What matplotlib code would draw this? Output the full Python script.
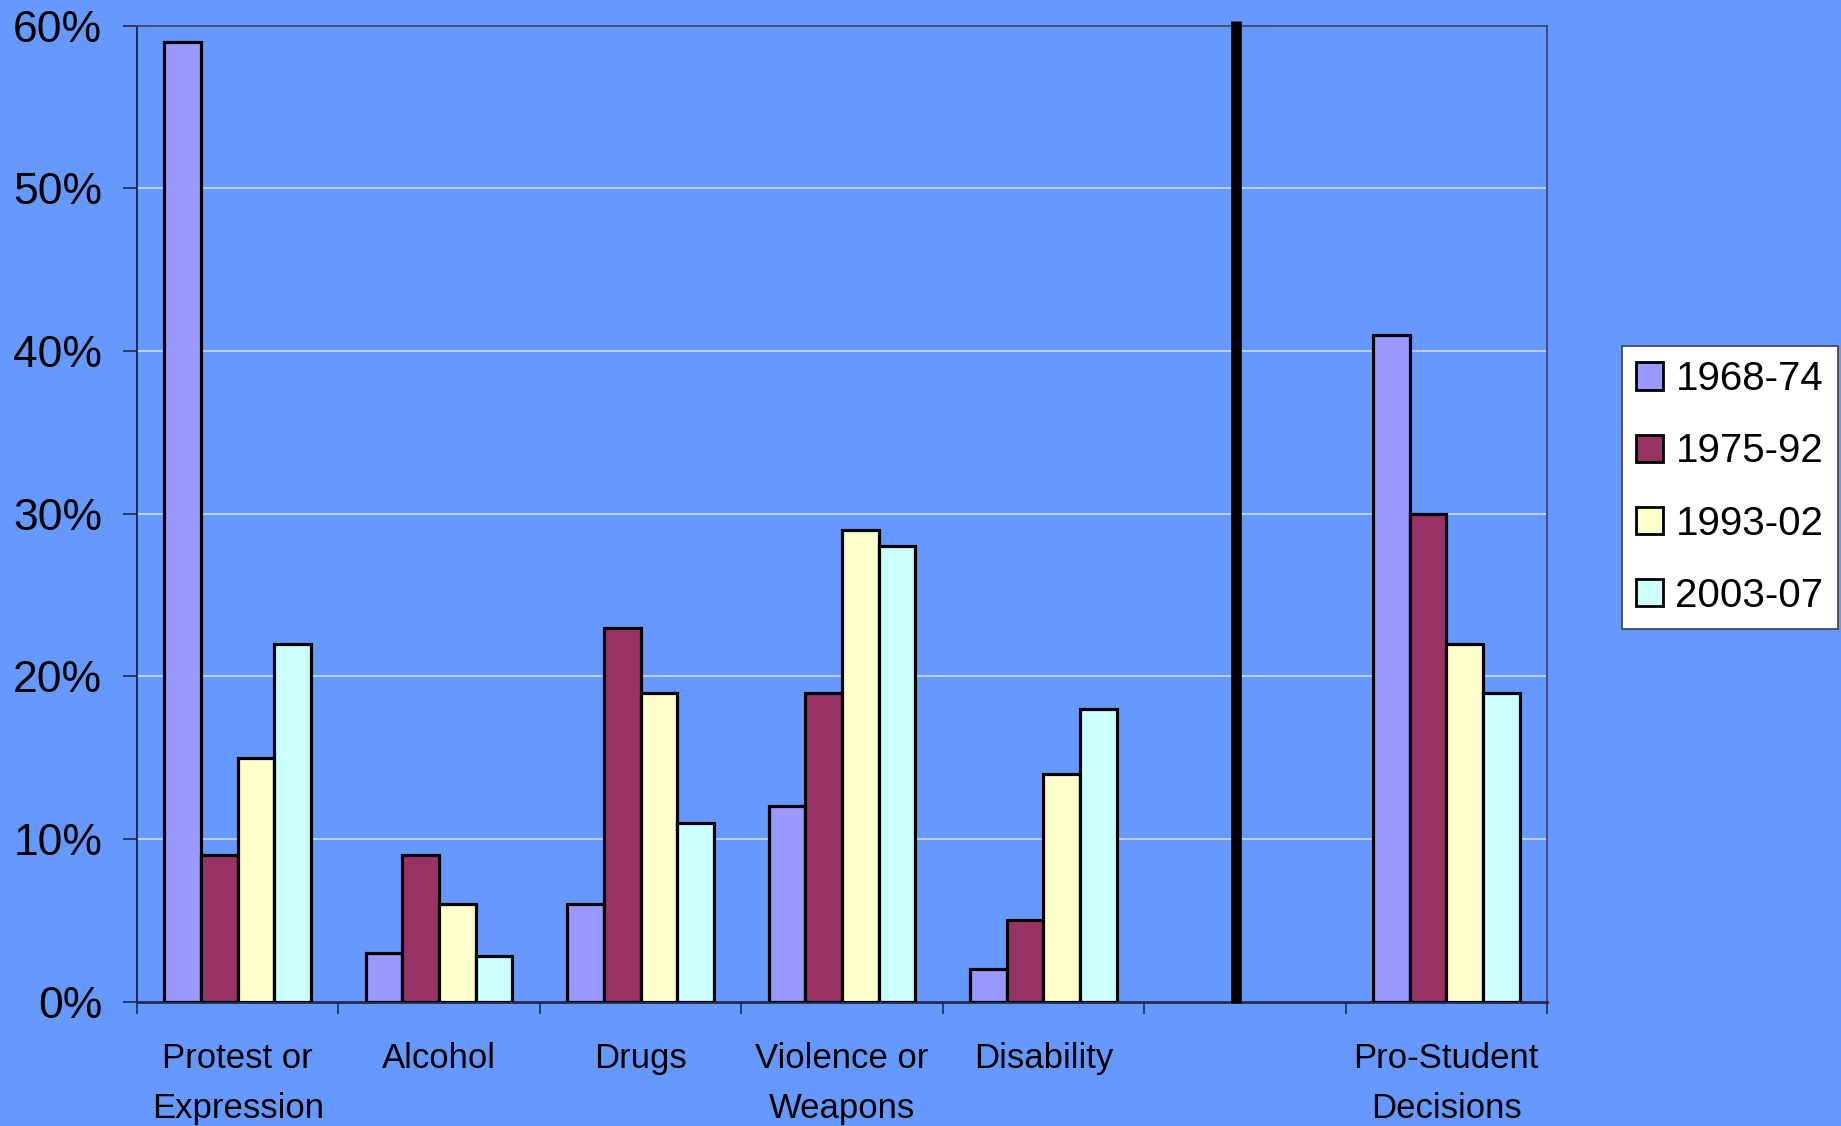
import numpy as np
import matplotlib
matplotlib.use("Agg")
import matplotlib.pyplot as plt
from matplotlib.ticker import FixedLocator, FuncFormatter

plt.rcParams['font.family'] = ['Liberation Sans', 'DejaVu Sans']

# Categories (the blank slot separates the topic groups from the overall outcome)
categories = ["Protest or\nExpression", "Alcohol", "Drugs", "Violence or\nWeapons",
              "Disability", "", "Pro-Student\nDecisions"]
periods = ["1968-74", "1975-92", "1993-02", "2003-07"]

# Share of decisions (%) per category, one list per period
v_1968_74 = [59, 3, 6, 12, 2, np.nan, 41]
v_1975_92 = [9, 9, 23, 19, 5, np.nan, 30]
v_1993_02 = [15, 6, 19, 29, 14, np.nan, 22]
v_2003_07 = [22, 2.8, 11, 28, 18, np.nan, 19]
series = [v_1968_74, v_1975_92, v_1993_02, v_2003_07]

colors = ["#9999FF", "#993366", "#FFFFCC", "#CCFFFF"]
bg = "#6699FF"

fig = plt.figure(figsize=(18.41, 11.26), dpi=100, facecolor=bg)
ax = fig.add_axes([0.0744, 0.1104, 0.7659, 0.8668], facecolor=bg)

x = np.arange(len(categories))
w = 1 / 5.5
for i, (vals, col, lab) in enumerate(zip(series, colors, periods)):
    ax.bar(x + (i - 1.5) * w, vals, width=w, color=col, edgecolor="black",
           linewidth=2.3, label=lab, zorder=3)

# Divider between topic groups and overall decisions
ax.plot([4.955, 4.955], [-0.1, 60.3], color="black", lw=7.7,
        solid_capstyle="butt", clip_on=False, zorder=5)

ax.set_xlim(-0.5, len(categories) - 0.5)
ax.set_ylim(0, 60)

# Y axis
ax.yaxis.set_major_locator(FixedLocator(np.arange(0, 61, 10)))
ax.yaxis.set_major_formatter(FuncFormatter(lambda v, p: f"{v:.0f}%"))
ax.tick_params(axis="y", direction="out", length=10, width=1.2,
               color="#1F2A50", labelsize=32, pad=15, labelcolor="black")
ax.grid(axis="y", color="#D6E0FF", lw=1.1, zorder=1)
ax.set_axisbelow(True)

# X axis: tick marks at slot boundaries, labels at slot centers
ax.xaxis.set_major_locator(FixedLocator(np.arange(-0.5, len(categories), 1.0)))
ax.xaxis.set_major_formatter(FuncFormatter(lambda v, p: ""))
ax.xaxis.set_minor_locator(FixedLocator(x))
ax.set_xticklabels(categories, minor=True, fontsize=25, linespacing=1.66)
ax.tick_params(axis="x", which="major", direction="out", length=8.5, width=1.2,
               color="#1F2A50")
ax.tick_params(axis="x", which="minor", length=0, pad=29, labelcolor="black")

for side in ["top", "right"]:
    ax.spines[side].set_color("#3A4670")
    ax.spines[side].set_linewidth(1.3)
ax.spines["left"].set_color("#10183A")
ax.spines["left"].set_linewidth(1.2)
ax.spines["bottom"].set_color("#1F2A50")
ax.spines["bottom"].set_linewidth(2.0)

leg = ax.legend(loc="center left", bbox_to_anchor=(0.881, 0.567),
                bbox_transform=fig.transFigure, fontsize=29, frameon=True,
                fancybox=False, edgecolor="#404040", facecolor="white",
                framealpha=1, handlelength=0.66, handleheight=0.66,
                handletextpad=0.32, labelspacing=0.85, borderpad=0.35,
                borderaxespad=0)
leg.get_frame().set_linewidth(1.2)
for h in leg.legend_handles:
    h.set_linewidth(2.0)

fig.savefig("out.png", dpi=100, facecolor=bg)
